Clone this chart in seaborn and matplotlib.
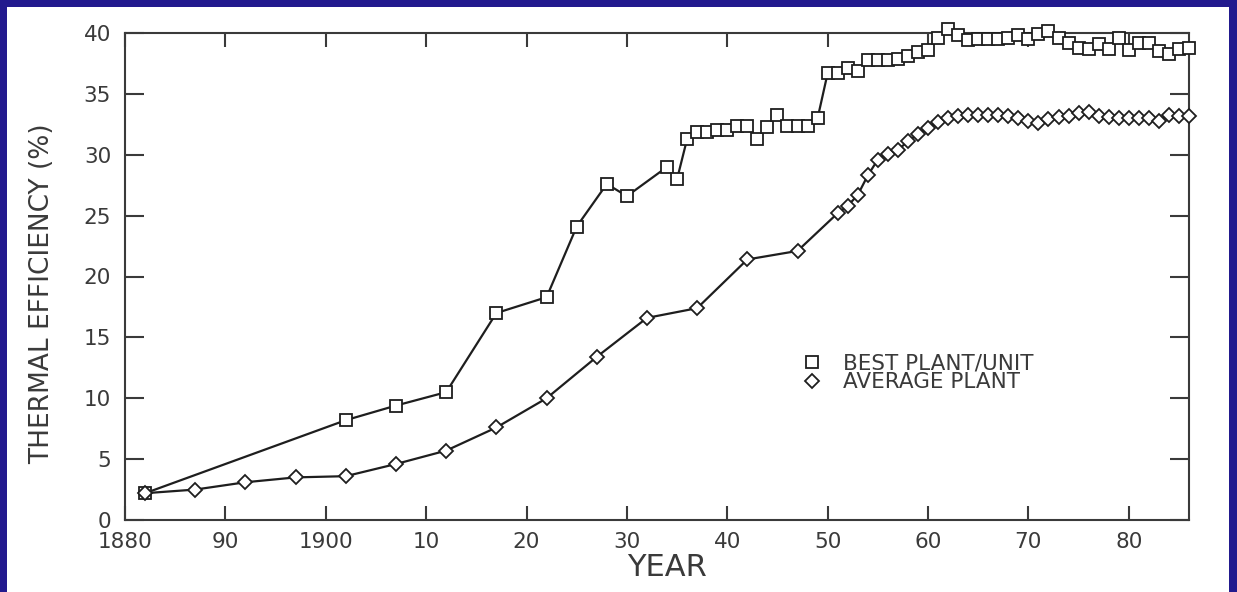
import matplotlib
matplotlib.use("Agg")
import matplotlib.pyplot as plt
from matplotlib.lines import Line2D
from matplotlib.patches import Rectangle
import seaborn as sns
import pandas as pd

# ---- data ----
best_years = [1882, 1902, 1907, 1912, 1917, 1922, 1925, 1928, 1930, 1934, 1935,
              1936, 1937, 1938, 1939, 1940, 1941, 1942, 1943, 1944, 1945, 1946,
              1947, 1948, 1949,
              1950, 1951, 1952, 1953, 1954, 1955, 1956, 1957, 1958, 1959, 1960,
              1961, 1962, 1963, 1964, 1965, 1966, 1967, 1968, 1969, 1970, 1971,
              1972, 1973, 1974, 1975, 1976, 1977, 1978, 1979, 1980, 1981, 1982,
              1983, 1984, 1985, 1986]
best_vals = [2.2, 8.2, 9.4, 10.5, 17.0, 18.3, 24.1, 27.6, 26.6, 29.0, 28.0,
             31.3, 31.9, 31.9, 32.0, 32.0, 32.4, 32.4, 31.3, 32.3, 33.3, 32.4,
             32.4, 32.4, 33.0,
             36.7, 36.7, 37.1, 36.9, 37.8, 37.8, 37.8, 37.9, 38.1, 38.4, 38.6,
             39.6, 40.3, 39.8, 39.4, 39.5, 39.5, 39.5, 39.6, 39.8, 39.5, 39.9,
             40.2, 39.6, 39.2, 38.8, 38.7, 39.1, 38.7, 39.6, 38.6, 39.2, 39.2,
             38.5, 38.3, 38.7, 38.8]

avg_years = [1882, 1887, 1892, 1897, 1902, 1907, 1912, 1917, 1922, 1927, 1932,
             1937, 1942, 1947,
             1951, 1952, 1953, 1954, 1955, 1956, 1957, 1958, 1959, 1960, 1961,
             1962, 1963, 1964, 1965, 1966, 1967, 1968, 1969, 1970, 1971, 1972,
             1973, 1974, 1975, 1976, 1977, 1978, 1979, 1980, 1981, 1982, 1983,
             1984, 1985, 1986]
avg_vals = [2.2, 2.5, 3.1, 3.5, 3.6, 4.6, 5.7, 7.6, 10.0, 13.4, 16.6,
            17.4, 21.4, 22.1,
            25.2, 25.8, 26.7, 28.3, 29.6, 30.1, 30.4, 31.1, 31.7, 32.2, 32.7,
            33.0, 33.2, 33.3, 33.3, 33.3, 33.3, 33.2, 33.0, 32.8, 32.6, 32.9,
            33.1, 33.2, 33.4, 33.5, 33.2, 33.1, 33.0, 33.0, 33.0, 33.0, 32.8,
            33.3, 33.2, 33.2]

x_ticks = [1880, 1890, 1900, 1910, 1920, 1930, 1940, 1950, 1960, 1970, 1980]
x_tick_labels = ["1880", "90", "1900", "10", "20", "30", "40", "50", "60", "70", "80"]
y_ticks = [0, 5, 10, 15, 20, 25, 30, 35, 40]
series_labels = ["BEST PLANT/UNIT", "AVERAGE PLANT"]

# ---- styling ----
sns.set_style("ticks")
plt.rcParams["font.family"] = ["DejaVu Sans"]

INK = "#1e1e1e"
TXT = "#3a3a3a"
BLUE = "#221a8e"

fig = plt.figure(figsize=(12.37, 5.92), dpi=100, facecolor="white")
# blue slide frame (left, top, right strips)
W, H = 1237, 592
for (x0, y0, w, h) in [(0, 0, 7, H), (0, H - 7, W, 7), (1229, 0, W - 1229, H)]:
    fig.patches.append(Rectangle((x0 / W, y0 / H), w / W, h / H,
                                 transform=fig.transFigure, facecolor=BLUE,
                                 edgecolor="none", zorder=5))

ax = fig.add_axes([125 / W, 1 - 520 / H, (1189 - 125) / W, (520 - 33) / H])
ax.set_facecolor("white")

best_df = pd.DataFrame({"year": best_years, "eff": best_vals})
avg_df = pd.DataFrame({"year": avg_years, "eff": avg_vals})

sns.lineplot(data=best_df, x="year", y="eff", ax=ax, color=INK, linewidth=1.6,
             marker="s", markersize=9, markerfacecolor="white",
             markeredgecolor=INK, markeredgewidth=1.3, sort=False, zorder=3,
             clip_on=False)
sns.lineplot(data=avg_df, x="year", y="eff", ax=ax, color=INK, linewidth=1.6,
             marker="D", markersize=7.2, markerfacecolor="white",
             markeredgecolor=INK, markeredgewidth=1.3, sort=False, zorder=3,
             clip_on=False)

ax.set_xlim(1880, 1986)
ax.set_ylim(0, 40)
ax.set_xticks(x_ticks)
ax.set_xticklabels(x_tick_labels)
ax.set_yticks(y_ticks)
ax.set_yticklabels([str(v) for v in y_ticks])

for s in ax.spines.values():
    s.set_visible(True)
    s.set_color("#3a3a3a")
    s.set_linewidth(1.5)

ax.tick_params(axis="x", direction="in", length=10, width=1.5, color="#3a3a3a",
               top=True, bottom=True, labelsize=15.5, labelcolor=TXT, pad=9)
ax.tick_params(axis="y", direction="in", length=14, width=1.5, color="#3a3a3a",
               left=True, right=True, labelsize=15.5, labelcolor=TXT, pad=10)

ax.set_xlabel("YEAR", fontsize=22, color=TXT)
ax.set_ylabel("THERMAL EFFICIENCY (%)", fontsize=19, color=TXT)
ax.xaxis.set_label_coords(0.509, -0.068)
ax.yaxis.set_label_coords(-0.066, 0.464)

handles = [Line2D([], [], linestyle="none", marker="s", markersize=9,
                  markerfacecolor="white", markeredgecolor=INK, markeredgewidth=1.3),
           Line2D([], [], linestyle="none", marker="D", markersize=7.2,
                  markerfacecolor="white", markeredgecolor=INK, markeredgewidth=1.3)]
leg = ax.legend(handles, series_labels, loc="upper left", bbox_to_anchor=(0.637, 0.342),
                frameon=False, fontsize=15.5, handlelength=0.9, handletextpad=0.95,
                labelspacing=-0.05, borderpad=0, borderaxespad=0)
for t in leg.get_texts():
    t.set_color(TXT)

fig.savefig("out.png", dpi=100, facecolor=fig.get_facecolor())
